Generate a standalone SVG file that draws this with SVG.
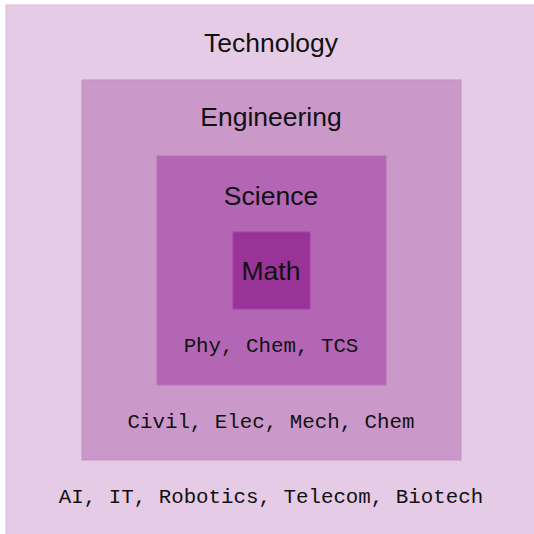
<svg xmlns="http://www.w3.org/2000/svg" width="534" height="534" viewBox="0 0 534 534">
  <style>
    .box { stroke-width: 1; }
    .title { font-family: "Liberation Sans", "DejaVu Sans", sans-serif; font-size: 26.5px; fill: #111; text-anchor: middle; }
    .list { font-family: "Liberation Mono", "DejaVu Sans Mono", monospace; font-size: 20.8px; fill: #111; text-anchor: middle; }
  </style>
  <rect width="534" height="534" fill="#ffffff"/>
  <g id="technology">
    <rect class="box" x="6" y="5" width="540" height="540" fill="#e6cbe6" stroke="#dcbedc"/>
    <text class="title" x="271" y="52">Technology</text>
    <text class="list" x="271" y="503">AI, IT, Robotics, Telecom, Biotech</text>
  </g>
  <g id="engineering">
    <rect class="box" x="82" y="80" width="379" height="380" fill="#cb98ca" stroke="#c48fc3"/>
    <text class="title" x="271" y="126">Engineering</text>
    <text class="list" x="271" y="428">Civil, Elec, Mech, Chem</text>
  </g>
  <g id="science">
    <rect class="box" x="157" y="156" width="229" height="229" fill="#b366b3" stroke="#b971b8"/>
    <text class="title" x="271" y="205">Science</text>
    <text class="list" x="271" y="352">Phy, Chem, TCS</text>
  </g>
  <g id="math">
    <rect class="box" x="233" y="232" width="77" height="77" fill="#9a3397" stroke="#a444a2"/>
    <text class="title" x="271" y="280">Math</text>
  </g>
  <g id="connectors"/>
</svg>
